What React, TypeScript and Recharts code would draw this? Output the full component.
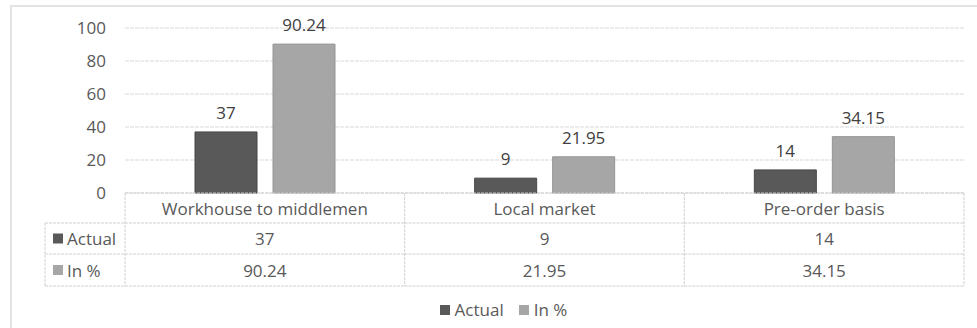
import React from 'react';
import { BarChart, Bar, XAxis, YAxis, CartesianGrid, Legend, LabelList } from 'recharts';

// ---- data ----
const categories = ['Workhouse to middlemen', 'Local market', 'Pre-order basis'];
const actualValues = [37, 9, 14];
const percentValues = [90.24, 21.95, 34.15];
const yTicks = [0, 20, 40, 60, 80, 100];
const seriesNames = ['Actual', 'In %'];

const data = categories.map((name, i) => ({
    name,
    actual: actualValues[i],
    percent: percentValues[i],
}));

// ---- layout ----
const W = 977;
const H = 328;
const FONT = '"Open Sans", "Noto Sans", sans-serif';
const TEXT = '#595959';
const DARK = '#595959';
const LIGHT = '#a6a6a6';
const LINE = '#d0d0d0';
const PLOT_LEFT = 125;
const PLOT_RIGHT = 964;
const PLOT_W = PLOT_RIGHT - PLOT_LEFT;
const ROW_H = 31;
const HEADER_LEFT = 45;

// category label + data table drawn under the x axis
const TableTick = ({ x, y, payload }: any) => {
    const i = payload.index;
    const band = PLOT_W / categories.length;
    const left = x - band / 2;
    const right = x + band / 2;
    const r1 = y + 30;
    const r2 = r1 + ROW_H;
    const r3 = r2 + ROW_H + 1;
    const lineLeft = i === 0 ? HEADER_LEFT : left;
    const textStyle = { fontFamily: FONT, fontSize: 17, fill: TEXT };

    return (
        <g>
            {i === 0 && <line x1={left} x2={left} y1={y} y2={r3} stroke={LINE} strokeDasharray="3 1" />}
            <line x1={right} x2={right} y1={y} y2={r3} stroke={LINE} strokeDasharray="3 1" />
            <line x1={lineLeft} x2={right} y1={r1} y2={r1} stroke={LINE} strokeDasharray="3 1" />
            <line x1={lineLeft} x2={right} y1={r2} y2={r2} stroke={LINE} strokeDasharray="3 1" />
            <line x1={lineLeft} x2={right} y1={r3} y2={r3} stroke={LINE} strokeDasharray="3 1" />
            <text x={x} y={(y + r1) / 2} textAnchor="middle" dominantBaseline="central" {...textStyle}>
                {payload.value}
            </text>
            <text x={x} y={(r1 + r2) / 2} textAnchor="middle" dominantBaseline="central" {...textStyle}>
                {String(actualValues[i])}
            </text>
            <text x={x} y={(r2 + r3) / 2} textAnchor="middle" dominantBaseline="central" {...textStyle}>
                {String(percentValues[i])}
            </text>
            {i === 0 && (
                <g>
                    <line x1={HEADER_LEFT} x2={HEADER_LEFT} y1={r1} y2={r3} stroke={LINE} strokeDasharray="3 1" />
                    <rect x={53} y={(r1 + r2) / 2 - 5} width={10} height={10} fill={DARK} />
                    <text x={67} y={(r1 + r2) / 2} dominantBaseline="central" {...textStyle}>
                        {seriesNames[0]}
                    </text>
                    <rect x={53} y={(r2 + r3) / 2 - 5} width={10} height={10} fill={LIGHT} />
                    <text x={67} y={(r2 + r3) / 2} dominantBaseline="central" {...textStyle}>
                        {seriesNames[1]}
                    </text>
                </g>
            )}
        </g>
    );
};

const LegendContent = () => (
    <div style={{ display: 'flex', justifyContent: 'center', alignItems: 'center', fontFamily: FONT, fontSize: 17, color: TEXT }}>
        {seriesNames.map((n, i) => (
            <span key={n} style={{ display: 'flex', alignItems: 'center', marginRight: i === 0 ? 15 : 0 }}>
                <span style={{ width: 10, height: 10, background: i === 0 ? DARK : LIGHT, marginRight: 5, display: 'inline-block' }} />
                {n}
            </span>
        ))}
    </div>
);

export default function App() {
    return (
        <div style={{ position: 'absolute', left: 0, top: 0, width: W, height: H, overflow: 'hidden', background: '#fff' }}>
            <div style={{ position: 'absolute', left: 10, top: 5, width: 1000, height: 400, border: '2px solid #e3e3e3', boxSizing: 'border-box' }} />
            <BarChart
                width={W}
                height={H}
                data={data}
                margin={{ top: 28, right: W - PLOT_RIGHT, left: 0, bottom: 0 }}
                barSize={62}
                barGap={16}
            >
                <CartesianGrid vertical={false} stroke="#d9d9d9" strokeDasharray="4 1" />
                <XAxis
                    dataKey="name"
                    height={135}
                    tickLine={false}
                    tickSize={0}
                    tickMargin={0}
                    axisLine={{ stroke: LINE, strokeDasharray: '3 1' }}
                    tick={<TableTick />}
                    interval={0}
                />
                <YAxis
                    width={PLOT_LEFT}
                    domain={[0, 100]}
                    ticks={yTicks}
                    tickLine={false}
                    axisLine={false}
                    tickMargin={13}
                    tick={{ fill: TEXT, fontSize: 17, fontFamily: FONT }}
                />
                <Legend
                    verticalAlign="middle"
                    content={<LegendContent />}
                    wrapperStyle={{ top: 298, left: 10, width: 987 }}
                />
                <Bar dataKey="actual" name={seriesNames[0]} fill={DARK} stroke="#474747" isAnimationActive={false}>
                    <LabelList dataKey="actual" position="top" offset={13} fill="#404040" fontSize={17} fontFamily={FONT} />
                </Bar>
                <Bar dataKey="percent" name={seriesNames[1]} fill={LIGHT} stroke="#959595" isAnimationActive={false}>
                    <LabelList dataKey="percent" position="top" offset={13} fill="#404040" fontSize={17} fontFamily={FONT} />
                </Bar>
            </BarChart>
        </div>
    );
}
